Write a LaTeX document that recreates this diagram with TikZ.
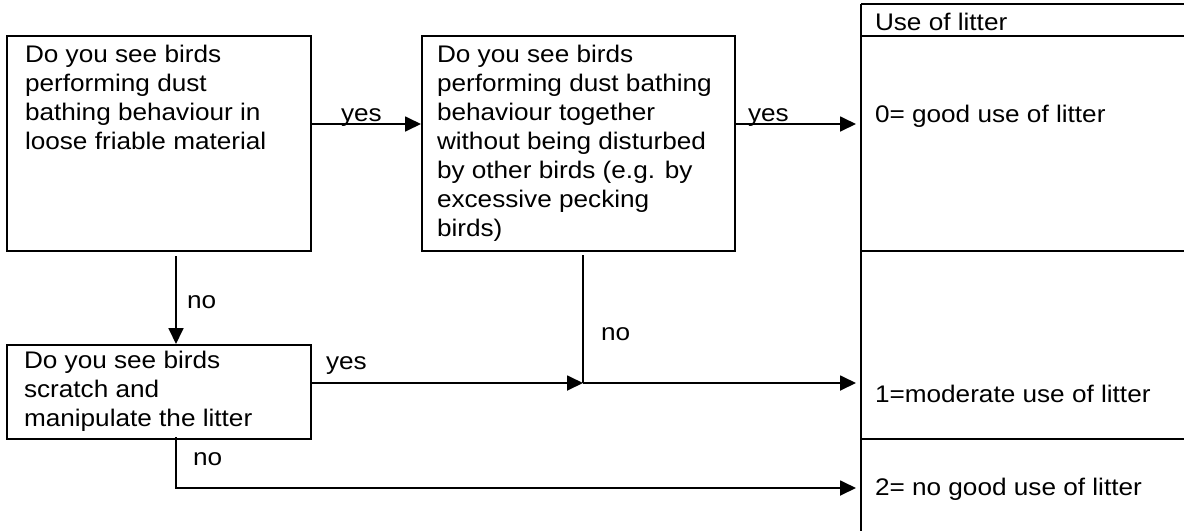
\documentclass[tikz,border=0pt]{standalone}
\usepackage{fontspec}
\setmainfont{Liberation Sans}[FakeStretch=1.09]
\usetikzlibrary{arrows.meta}
\begin{document}
\begin{tikzpicture}[x=1pt,y=-1pt,line width=2pt,
  font=\fontsize{24}{29}\selectfont,
  qbox/.style={draw,rectangle,inner sep=0pt,line width=2pt},
  conn/.style={-{Triangle[length=16pt,width=15pt]},line width=1.8pt},
  plain/.style={line width=1.8pt},
  txt/.style={anchor=base west,inner sep=0pt},
  rule/.style={line width=2pt}]
\useasboundingbox (0,0) rectangle (1184,531);
% question boxes
\node[qbox,minimum width=304pt,minimum height=215pt] (A) at (159,143.5) {};
\node[qbox,minimum width=313pt,minimum height=215pt] (B) at (578.5,143.5) {};
\node[qbox,minimum width=304pt,minimum height=94pt] (C) at (159,392) {};
\node[txt] (Atxt) at (24,62) {\parbox[t]{300pt}{Do you see birds\\performing dust\\bathing behaviour in\\loose friable material}};
\node[txt] (Btxt) at (436,62) {\parbox[t]{300pt}{Do you see birds\\performing dust bathing\\behaviour together\\without being disturbed\\by other birds (e.g. by\\excessive pecking\\birds)}};
\node[txt] (Ctxt) at (23,368) {\parbox[t]{300pt}{Do you see birds\\scratch and\\manipulate the litter}};
% table
\coordinate (Ttop) at (861,4);
\coordinate (Tbot) at (861,531);
\draw[rule] (Ttop) -- (Tbot);
\draw[rule] (Ttop) -- (1184,4);
\draw[rule] (861,36) -- (1184,36);
\draw[rule] (861,251) -- (1184,251);
\draw[rule] (861,439) -- (1184,439);
\node[txt] (H) at (874,30) {Use of litter};
\node[txt] (S0) at (874,122) {0= good use of litter};
\node[txt] (S1) at (874,402) {1=moderate use of litter};
\node[txt] (S2) at (874,495) {2= no good use of litter};
% connector points
\coordinate (yA) at (0,124);
\coordinate (T0) at (856,124);
\coordinate (As) at (176,256);
\coordinate (Bs) at (583,255);
\coordinate (J) at (583,383);
\coordinate (T1) at (856,383);
\coordinate (Cs) at (176,437);
\coordinate (T2) at (856,488);
% connectors
\draw[conn] (A.east |- yA) -- (B.west |- yA);
\draw[conn] (B.east |- yA) -- (T0);
\draw[conn] (As) -- (As |- C.north);
\draw[plain] (Bs) -- (J);
\draw[conn] (C.east |- J) -- (J);
\draw[conn] (J) -- (T1);
\draw[conn] (Cs) |- (T2);
% labels
\node[txt] (y1) at (340,121) {yes};
\node[txt] (y2) at (747,121) {yes};
\node[txt] (n1) at (186,308) {no};
\node[txt] (n2) at (600,340) {no};
\node[txt] (y3) at (325,369) {yes};
\node[txt] (n3) at (192,465) {no};
\end{tikzpicture}
\end{document}
